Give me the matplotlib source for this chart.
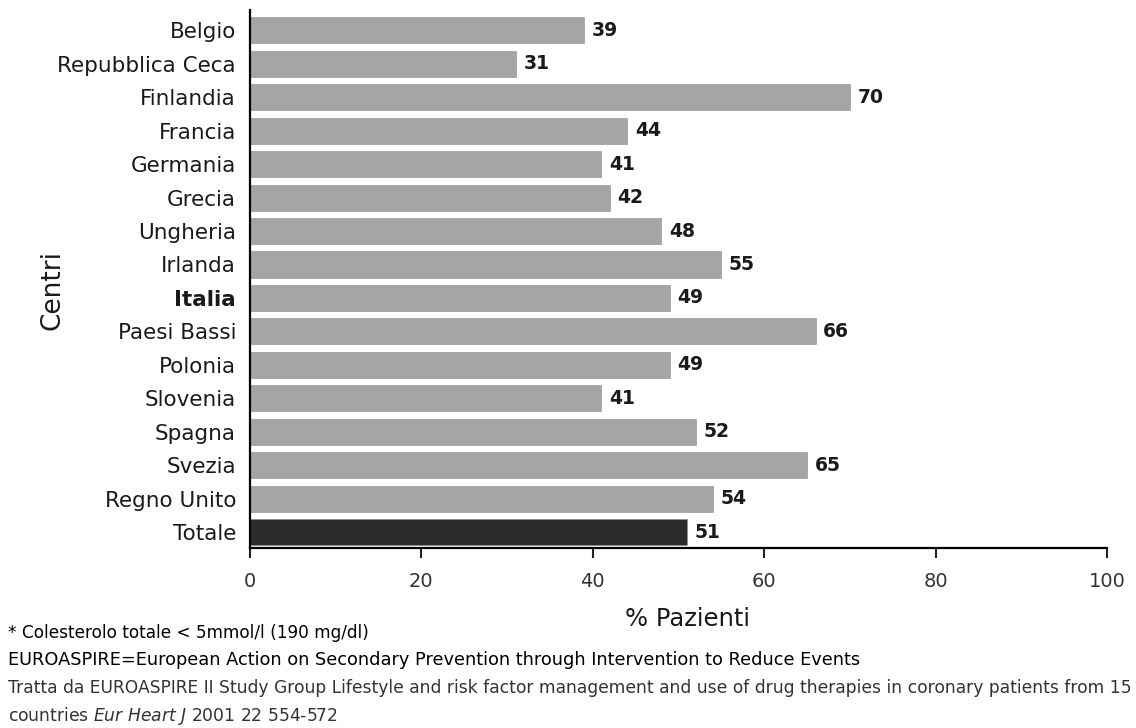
import matplotlib
matplotlib.use("Agg")
import matplotlib.pyplot as plt

plt.rcParams['font.family'] = ['DejaVu Sans']

countries = ["Belgio", "Repubblica Ceca", "Finlandia", "Francia", "Germania",
             "Grecia", "Ungheria", "Irlanda", "Italia", "Paesi Bassi", "Polonia",
             "Slovenia", "Spagna", "Svezia", "Regno Unito", "Totale"]
values = [39, 31, 70, 44, 41, 42, 48, 55, 49, 66, 49, 41, 52, 65, 54, 51]
xticks = [0, 20, 40, 60, 80, 100]

fig = plt.figure(figsize=(11.36, 7.28), dpi=100)
ax = fig.add_axes([0.220, 0.247, 0.7545, 0.739])

colors = ["#2b2b2b" if c == "Totale" else "#a5a5a5" for c in countries]
pos = list(range(len(countries)))
ax.barh(pos, values, height=0.78, color=colors, edgecolor="#8a8a8a", linewidth=0.4)

for p, v in zip(pos, values):
    ax.text(v + 0.9, p, str(v), va="center", ha="left", fontsize=13.5,
            fontweight="bold", color="#1a1a1a")

ax.set_ylim(15.48, -0.6)
ax.set_xlim(0, 100)
ax.set_yticks(pos)
ax.set_yticklabels(countries, fontsize=15.5, color="#1a1a1a")
for lbl in ax.get_yticklabels():
    if lbl.get_text() == "Italia":
        lbl.set_fontweight("bold")
ax.tick_params(axis="y", length=0, pad=10)
ax.set_xticks(xticks)
ax.set_xticklabels([str(t) for t in xticks], fontsize=14, color="#333333")
ax.tick_params(axis="x", length=7, width=1.5, pad=10, color="#222222")

for s in ("top", "right"):
    ax.spines[s].set_visible(False)
ax.spines["left"].set_linewidth(1.6)
ax.spines["bottom"].set_linewidth(1.6)

ax.set_xlabel("% Pazienti", fontsize=17.5, labelpad=12, x=0.51, color="#1a1a1a")
ax.set_ylabel("Centri", fontsize=19, color="#1a1a1a")
ax.yaxis.set_label_coords(-0.215, 0.48)

fig.text(0.007, 0.130, "* Colesterolo totale < 5mmol/l (190 mg/dl)", fontsize=12.2, va="center")
fig.text(0.007, 0.093, "EUROASPIRE=European Action on Secondary Prevention through Intervention to Reduce Events",
         fontsize=12.8, va="center")
fig.text(0.007, 0.055,
         "Tratta da EUROASPIRE II Study Group Lifestyle and risk factor management and use of drug therapies in coronary patients from 15",
         fontsize=12.3, va="center", color="#333333")
fig.text(0.007, 0.017, "countries $\\it{Eur\\ Heart\\ J}$ 2001 22 554-572",
         fontsize=12.3, va="center", color="#333333")

fig.savefig("out.png", dpi=100)
